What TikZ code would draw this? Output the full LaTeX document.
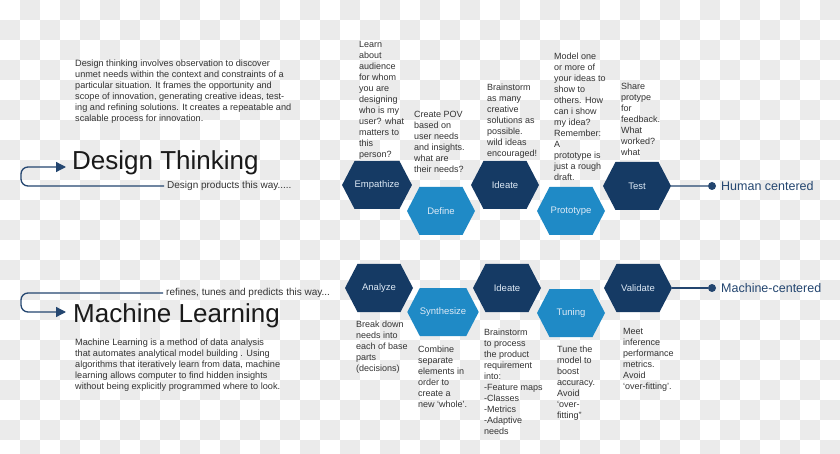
\documentclass[tikz,border=0pt]{standalone}
\usepackage{fontspec}
\setmainfont{Liberation Sans}
\usetikzlibrary{arrows.meta,shapes.symbols}
\definecolor{hexdark}{RGB}{21,58,100}
\definecolor{hexlight}{RGB}{31,138,198}
\definecolor{hexlabel}{RGB}{222,234,246}
\definecolor{linknavy}{RGB}{36,70,112}
\definecolor{notegray}{RGB}{51,51,51}
\definecolor{titleblack}{RGB}{26,26,26}
\definecolor{checkgray}{RGB}{235,235,235}

\tikzset{
  hexbox/.style={signal, signal to=east and west, signal pointer angle=125,
    minimum width=68pt, minimum height=48pt, inner sep=0pt, text=hexlabel,
    font=\fontsize{9.5}{11}\selectfont},
  darkhex/.style={hexbox, fill=hexdark},
  lighthex/.style={hexbox, fill=hexlight},
  note/.style={anchor=north west, align=left, inner sep=0pt, text=notegray,
    font=\fontsize{9}{11}\selectfont},
  blurb/.style={anchor=north west, align=left, inner sep=0pt, text=notegray,
    font=\fontsize{9.15}{10.9}\selectfont},
  bigtitle/.style={anchor=base west, inner sep=0pt, text=titleblack,
    font=\fontsize{26}{30}\selectfont},
  waylabel/.style={anchor=west, inner sep=3pt, text=notegray,
    font=\fontsize{10}{12}\selectfont},
  flow/.style={draw=linknavy, line width=1.3pt, rounded corners=7pt,
    -{Triangle[length=10pt,width=10pt]}},
  link/.style={draw=linknavy, line width=1.3pt},
  enddot/.style={circle, fill=linknavy, minimum size=8pt, inner sep=0pt},
  endlabel/.style={anchor=west, inner sep=2pt, text=linknavy,
    font=\fontsize{12.5}{15}\selectfont}
}

\begin{document}
\begin{tikzpicture}[x=1pt, y=-1pt]
  \useasboundingbox (0,0) rectangle (840,454);
  \fill[white] (0,0) rectangle (840,454);
  \begin{scope}
    \clip (0,0) rectangle (840,454);
    \foreach \i in {0,...,41}{
      \foreach \j in {0,...,22}{
        \pgfmathtruncatemacro\odd{mod(\i+\j,2)}
        \ifnum\odd=1 \fill[checkgray] (\i*20,\j*20) rectangle ++(20,20);\fi
      }
    }
  \end{scope}

  \node[blurb] (dtblurb) at (75,60) {Design thinking involves observation to discover\\
    unmet needs within the context and constraints of a\\
    particular situation. It frames the opportunity and\\
    scope of innovation, generating creative ideas, test-\\
    ing and refining solutions. It creates a repeatable and\\
    scalable process for innovation.};
  \node[bigtitle] (dt) at (72,170) {Design Thinking};
  \node[waylabel] (dpt) at (164,186) {Design products this way.....};
  \coordinate (dtbend) at (21,167);
  \coordinate (dtin) at (66,167);
  \draw[flow] (dpt.west) -| (dtbend) -- (dtin);

  \node[darkhex] (empathize) at (377,185) {Empathize};
  \node[lighthex] (define) at (441,211) {Define};
  \node[darkhex] (ideate) at (505,185) {Ideate};
  \node[lighthex] (prototype) at (571,211) {Prototype};
  \node[darkhex] (test) at (637,186) {Test};
  \node[enddot] (hcdot) at (712,186) {};
  \node[endlabel] (hclabel) at (719,186) {Human centered};
  \draw[link] (test) -- (hcdot);

  \node[note] (emptext) at (359,41) {Learn\\about\\audience\\for whom\\you are\\designing\\who is my\\user? what\\matters to\\this\\person?};
  \node[note] (deftext) at (414,111) {Create POV\\based on\\user needs\\and insights.\\what are\\their needs?};
  \node[note] (idetext) at (487,84) {Brainstorm\\as many\\creative\\solutions as\\possible.\\wild ideas\\encouraged!};
  \node[note] (protext) at (554,53) {Model one\\or more of\\your ideas to\\show to\\others. How\\can i show\\my idea?\\Remember:\\A\\prototype is\\just a rough\\draft.};
  \node[note] (testext) at (621,83) {Share\\protype\\for\\feedback.\\What\\worked?\\what};

  \node[waylabel] (rtp) at (163,293) {refines, tunes and predicts this way...};
  \node[bigtitle] (ml) at (73,322) {Machine Learning};
  \coordinate (mlbend) at (21,312);
  \coordinate (mlin) at (66,312);
  \draw[flow] (rtp.west) -| (mlbend) -- (mlin);
  \node[blurb] (mlblurb) at (75,339) {Machine Learning is a method of data analysis\\
    that automates analytical model building . Using\\
    algorithms that iteratively learn from data, machine\\
    learning allows computer to find hidden insights\\
    without being explicitly programmed where to look.};

  \node[darkhex] (analyze) at (379,288) {Analyze};
  \node[lighthex] (synthesize) at (443,312) {Synthesize};
  \node[darkhex] (mlideate) at (507,288) {Ideate};
  \node[lighthex] (tuning) at (571,313) {Tuning};
  \node[darkhex] (validate) at (638,288) {Validate};
  \node[enddot] (mcdot) at (712,288) {};
  \node[endlabel] (mclabel) at (719,288) {Machine-centered};
  \draw[link] (validate) -- (mcdot);

  \node[note] (anatext) at (356,321) {Break down\\needs into\\each of base\\parts\\(decisions)};
  \node[note] (syntext) at (418,346) {Combine\\separate\\elements in\\order to\\create a\\new ‘whole’.};
  \node[note] (mlidetext) at (484,329) {Brainstorm\\to process\\the product\\requirement\\into:\\-Feature maps\\-Classes\\-Metrics\\-Adaptive\\needs};
  \node[note] (tuntext) at (557,346) {Tune the\\model to\\boost\\accuracy.\\Avoid\\‘over-\\fitting”};
  \node[note] (valtext) at (623,328) {Meet\\inference\\performance\\metrics.\\Avoid\\‘over-fitting’.};
\end{tikzpicture}
\end{document}
